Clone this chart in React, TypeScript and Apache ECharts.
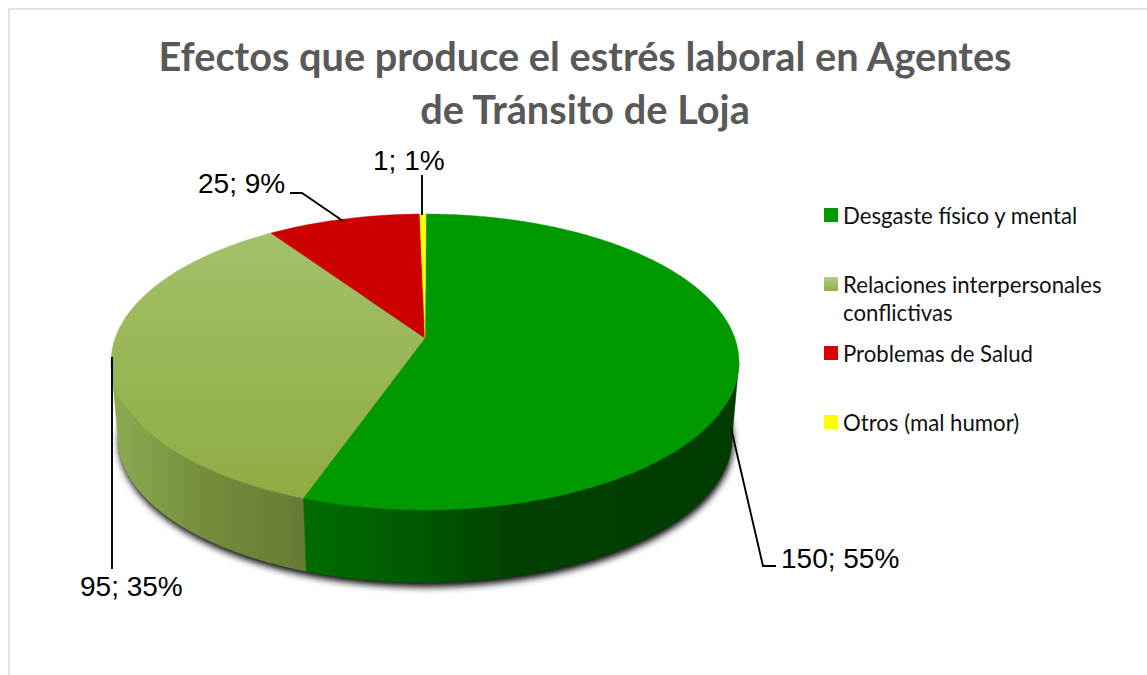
import React, { useEffect, useRef } from "react";
import * as echarts from "echarts";

const categories = [
  "Desgaste físico y mental",
  "Relaciones interpersonales\nconflictivas",
  "Problemas de Salud",
  "Otros (mal humor)",
];
const values = [150, 95, 25, 1];
const percents = [55, 35, 9, 1];
const titleLines = ["Efectos que produce el estrés laboral en Agentes", "de Tránsito de Loja"];

// Projection of the pie's disc (perspective view from above)
const APEX_X = 425, APEX_Y = 338, PERSP = 0.162, SX = 309.8, SY = 144.1;
const START_DEG = 0.2, SILHOUETTE_R = 99.3, SILHOUETTE_L = 260.7;
const RIM_CY = 362, BASE_CY = 438, BASE_SCALE = 0.978;

const project = (deg: number) => {
  const t = (deg * Math.PI) / 180;
  const u = Math.sin(t), v = -Math.cos(t), w = 1 - PERSP * v;
  return [APEX_X + (SX * u) / w, APEX_Y + (SY * v) / w];
};
const toBase = (p: number[]) => [APEX_X + (p[0] - APEX_X) * BASE_SCALE, BASE_CY + (p[1] - RIM_CY) * BASE_SCALE];
const arc = (a: number, b: number) => {
  const n = Math.max(2, Math.ceil(Math.abs(b - a) / 0.5));
  const pts: number[][] = [];
  for (let i = 0; i <= n; i++) pts.push(project(a + ((b - a) * i) / n));
  return pts;
};

const LG = echarts.graphic.LinearGradient;
const topFills: any[] = [
  "#009900",
  new LG(0, 214, 0, 500, [{ offset: 0, color: "#A4C26B" }, { offset: 1, color: "#8FAC44" }], true),
  "#CC0000",
  "#FFFF00",
];
const wallFills: any[] = [
  new LG(304, 0, 732, 0, [
    { offset: 0, color: "#006B00" },
    { offset: 0.25, color: "#005A00" },
    { offset: 0.5, color: "#004000" },
    { offset: 1, color: "#003C00" },
  ], true),
  new LG(116, 0, 307, 0, [
    { offset: 0, color: "#8CAA50" },
    { offset: 0.45, color: "#748E3C" },
    { offset: 1, color: "#667A35" },
  ], true),
  "#7A0000",
  "#999900",
];
const legendFills: any[] = [
  "#009900",
  new LG(0, 0, 0, 1, [{ offset: 0, color: "#B2CD86" }, { offset: 1, color: "#92AF49" }]),
  "#DD0000",
  "#FFFF00",
];
const legendCenters = [215, 284, 353, 422];
const labelPlaces = [
  { x: 781, y: 558, line: [[731, 428], [763, 566], [776, 566]] },
  { x: 80, y: 586, line: [[112, 357], [112, 569]] },
  { x: 198, y: 183, line: [[290, 193], [302, 193], [343, 221]] },
  { x: 373, y: 160, line: [[422, 175], [422, 215]] },
];

const renderSlice = (i: number) => (_params: any, api: any) => {
  const before = values.slice(0, i).reduce((a, b) => a + b, 0);
  const total = values.reduce((a, b) => a + b, 0);
  const a0 = START_DEG + (before / total) * 360;
  const a1 = a0 + (api.value(0) / total) * 360;
  const children: any[] = [];
  if (i === 0) {
    children.push({
      type: "polygon",
      shape: { points: arc(0, 360).map(toBase) },
      style: { fill: "#222", shadowColor: "rgba(0,0,0,1)", shadowBlur: 7, shadowOffsetX: 1, shadowOffsetY: 4 },
    });
  }
  const w0 = Math.max(a0, SILHOUETTE_R), w1 = Math.min(a1, SILHOUETTE_L);
  if (w1 > w0) {
    const rim = arc(w0, w1);
    const points = rim.concat(rim.map(toBase).reverse());
    children.push({ type: "polygon", shape: { points }, style: { fill: wallFills[i], stroke: wallFills[i], lineWidth: 0.4 } });
  }
  children.push({
    type: "polygon",
    shape: { points: [[APEX_X, APEX_Y], ...arc(a0, a1)] },
    style: { fill: topFills[i], stroke: topFills[i], lineWidth: 0.4 },
  });
  return { type: "group", children };
};

const renderLabel = (i: number) => () => ({
  type: "group",
  children: [
    {
      type: "polyline",
      shape: { points: labelPlaces[i].line },
      style: { fill: "none", stroke: "#000", lineWidth: 1.9 },
    },
    {
      type: "text",
      x: labelPlaces[i].x,
      y: labelPlaces[i].y,
      style: {
        text: `${values[i]}; ${percents[i]}%`,
        fontFamily: "Liberation Sans",
        fontSize: 28,
        fill: "#000",
        align: "left",
        verticalAlign: "middle",
      },
    },
  ],
});

export default function App() {
  const ref = useRef<HTMLDivElement>(null);
  useEffect(() => {
    const chart = echarts.init(ref.current!, null, { renderer: "svg" });
    chart.setOption({
      animation: false,
      backgroundColor: "#fff",
      title: {
        text: titleLines.join("\n"),
        left: 585,
        top: 29,
        textAlign: "center",
        padding: 0,
        textStyle: { fontFamily: "Lato", fontWeight: "bold", fontSize: 39.7, lineHeight: 53, color: "#595959" },
      },
      legend: categories.map((name, i) => ({
        data: [{ name, itemStyle: { color: legendFills[i] } }],
        left: 824,
        top: legendCenters[i] - (i === 1 ? 42 : 14),
        padding: 0,
        itemWidth: 14,
        itemHeight: 14,
        itemGap: 0,
        selectedMode: false,
        icon: "rect",
        formatter: (n: string) => (i === 1 ? "\n" + n : n),
        textStyle: {
          fontFamily: "Lato",
          fontSize: 22.2,
          color: "#111",
          lineHeight: 28,
        },
      })),
      graphic: [
        {
          type: "polyline",
          silent: true,
          shape: { points: [[9, 675], [9, 9], [1147, 9]] },
          style: { fill: "none", stroke: "#D9D9D9", lineWidth: 1.5 },
        },
      ],
      series: [
        ...categories.map((name, i) => ({
          type: "custom",
          name,
          coordinateSystem: "none",
          silent: true,
          data: [[values[i]]],
          renderItem: renderSlice(i),
        })),
        ...categories.map((name, i) => ({
          type: "custom",
          name: `${name} etiqueta`,
          coordinateSystem: "none",
          silent: true,
          data: [[values[i]]],
          renderItem: renderLabel(i),
        })),
      ],
    });
    return () => chart.dispose();
  }, []);
  return <div ref={ref} style={{ position: "fixed", left: 0, top: 0, width: 1147, height: 675 }} />;
}
